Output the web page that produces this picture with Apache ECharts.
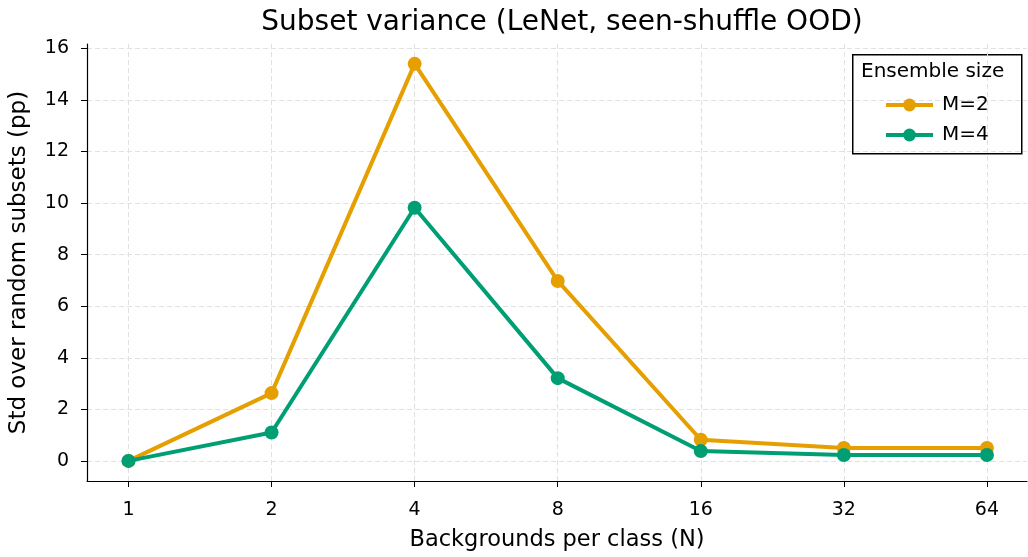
<!DOCTYPE html>
<html>
<head>
<meta charset="utf-8">
<script src="https://cdn.jsdelivr.net/npm/echarts@6/dist/echarts.min.js"></script>
<style>html,body{margin:0;padding:0;background:#fff}#c{width:1028px;height:557px}</style>
</head>
<body>
<div id="c"></div>
<script>
const categories = ['1', '2', '4', '8', '16', '32', '64'];
const m2 = [0.0, 2.63, 15.4, 6.98, 0.82, 0.5, 0.5];
const m4 = [0.0, 1.1, 9.82, 3.21, 0.38, 0.23, 0.23];
const yTicks = [0, 2, 4, 6, 8, 10, 12, 14, 16];
const seriesNames = ['M=2', 'M=4'];
const colors = ['#E69F00', '#009E73'];

const xIdx = categories.map((c, i) => i);
const font = '"DejaVu Sans", sans-serif';
const chart = echarts.init(document.getElementById('c'), null, {renderer: 'canvas'});
const mk = (arr) => arr.map((v, i) => [i, v]);
const gridLine = {show: true, lineStyle: {color: '#e0e0e0', type: [5, 3], width: 1}};
chart.setOption({
  animation: false,
  backgroundColor: '#fff',
  textStyle: {fontFamily: font},
  title: {
    text: 'Subset variance (LeNet, seen-shuffle OOD)',
    left: 557, top: 4, textAlign: 'center',
    textStyle: {fontFamily: font, fontSize: 28, fontWeight: 'normal', color: '#000'}
  },
  grid: {left: 85, right: 1, top: 44, bottom: 69, containLabel: false},
  xAxis: {
    type: 'value', min: -0.29, max: 6.28,
    name: 'Backgrounds per class (N)', nameLocation: 'middle', nameGap: 48,
    nameTextStyle: {fontFamily: font, fontSize: 22.5, color: '#000'},
    axisLine: {show: true, onZero: false, lineStyle: {color: '#000', width: 1.2}},
    axisTick: {show: true, length: 6, lineStyle: {color: '#000'}, customValues: xIdx},
    axisLabel: {fontFamily: font, fontSize: 19, color: '#000', margin: 20,
      customValues: xIdx, formatter: (v) => categories[Math.round(v)]},
    splitLine: gridLine
  },
  yAxis: {
    type: 'value', min: -0.78, max: 16.17,
    name: 'Std over random subsets (pp)', nameLocation: 'middle', nameGap: 56, nameRotate: 90,
    nameTextStyle: {fontFamily: font, fontSize: 23, color: '#000'},
    axisLine: {show: true, onZero: false, lineStyle: {color: '#000', width: 1.2}},
    axisTick: {show: true, length: 6, lineStyle: {color: '#000'}, customValues: yTicks},
    axisLabel: {fontFamily: font, fontSize: 19, color: '#000', margin: 18, customValues: yTicks},
    splitLine: gridLine
  },
  legend: {
    left: 879, top: 90, orient: 'vertical', itemWidth: 47, itemHeight: 16, itemGap: 10,
    lineStyle: {width: 4},
    textStyle: {fontFamily: font, fontSize: 20, color: '#000', padding: [0, 0, 0, 4], lineHeight: 17},
    data: seriesNames
  },
  graphic: [
    {type: 'rect', left: 852, top: 54, shape: {width: 169, height: 99},
      style: {fill: '#fff', stroke: '#000', lineWidth: 1.5}, z: 0},
    {type: 'text', left: 861, top: 62, style: {text: 'Ensemble size', font: '20px "DejaVu Sans", sans-serif', fill: '#000'}, z: 10}
  ],
  series: [
    {name: seriesNames[0], type: 'line', data: mk(m2), color: colors[0],
      lineStyle: {width: 4}, symbol: 'circle', symbolSize: 14, z: 3},
    {name: seriesNames[1], type: 'line', data: mk(m4), color: colors[1],
      lineStyle: {width: 4}, symbol: 'circle', symbolSize: 14, z: 4}
  ]
});
</script>
</body>
</html>
